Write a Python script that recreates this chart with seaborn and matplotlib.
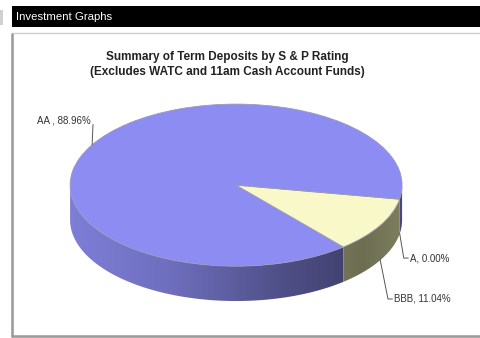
import numpy as np
import matplotlib
matplotlib.use("Agg")
import matplotlib.pyplot as plt
import seaborn as sns
from matplotlib.patches import Polygon, Rectangle
from matplotlib.colors import to_rgb

# data
ratings = ["AA", "BBB", "A"]
shares = [88.96, 11.04, 0.00]
label_texts = ["AA , 88.96%", "BBB, 11.04%", "A, 0.00%"]
title_lines = ["Summary of Term Deposits by S & P Rating",
               "(Excludes WATC and 11am Cash Account Funds)"]

top_colors = ["#8c8cf2", "#f8f8c8", "#8c8cf2"]
side_colors = ["#7e7ed8", "#dadaa4", "#7e7ed8"]
label_pos = [(-0.875, 0.80), (0.95, -1.405), (1.045, -0.90)]

START = -10      # degrees
DEPTH = 0.43     # thickness of the pie, in y data units
W, H = 481, 338

sns.set_theme(style="white")
plt.rcParams["font.family"] = ["Liberation Sans", "DejaVu Sans"]

fig = plt.figure(figsize=(W / 100, H / 100), dpi=100)
fig.patch.set_facecolor("white")


def fig_rect(x, y, w, h, **kw):
    """Rectangle in pixel coordinates measured from the top left corner."""
    r = Rectangle((x / W, 1 - (y + h) / H), w / W, h / H,
                  transform=fig.transFigure, **kw)
    fig.add_artist(r)
    return r


# page furniture: header bar and panel border
fig_rect(0, 10, 3, 15, facecolor="#d0d0d0", edgecolor="none")
fig_rect(12, 6, 470, 21, facecolor="black", edgecolor="none")
fig.text(16 / W, 1 - 16.5 / H, "Investment Graphs", color="white",
         fontsize=8.2, ha="left", va="center")
fig_rect(12, 33, 475, 303, facecolor="none", edgecolor="#cfcfcf", linewidth=1)
fig.add_artist(plt.Line2D([12 / W, 12 / W], [1 - 34 / H, 1 - 336 / H],
                          transform=fig.transFigure, color="#9a9a9a", lw=1.8))
fig.add_artist(plt.Line2D([12 / W, 1], [1 - 336 / H, 1 - 336 / H],
                          transform=fig.transFigure, color="#9a9a9a", lw=1.8))

for i, line in enumerate(title_lines):
    fig.text(227 / W, 1 - (57 + 15 * i) / H, line, fontsize=8.5,
             fontweight="bold", color="#222222", ha="center", va="center")

# pie axes: radius 1 maps to 166 px across and 81 px down
ax = fig.add_axes([12 / W, 1 - 331 / H, 456.5 / W, 235 / H])

bounds = START + np.concatenate([[0], np.cumsum(shares)]) * 3.6

# shading across the front wall, light on the left, dark on the right
grad_x = np.linspace(-1, 1, 300)
shade = np.interp(grad_x, [-1, -0.4, 0.3, 0.75, 1], [1.0, 0.88, 0.62, 0.5, 0.58])

for i, (t1, t2) in enumerate(zip(bounds[:-1], bounds[1:])):
    if t2 - t1 <= 0:
        continue
    ts = np.linspace(t1, t2, 600)
    front = np.sin(np.radians(ts)) <= 0
    # split into contiguous runs of visible angles
    edges = np.flatnonzero(np.diff(np.r_[0, front.astype(int), 0]))
    for a, b in zip(edges[::2], edges[1::2]):
        tt = np.radians(ts[a:b])
        if len(tt) < 2:
            continue
        xs = np.cos(tt)
        ys = np.sin(tt)
        pts = np.r_[np.c_[xs, ys], np.c_[xs[::-1], ys[::-1] - DEPTH]]
        poly = Polygon(pts, closed=True, facecolor="none", edgecolor="none")
        ax.add_patch(poly)
        rgb = np.array(to_rgb(side_colors[i]))[None, None, :] * shade[None, :, None]
        im = ax.imshow(rgb, extent=(-1.01, 1.01, -1 - DEPTH - 0.05, 0.05),
                       aspect="auto", interpolation="bilinear", zorder=1)
        im.set_clip_path(poly)

ax.pie(shares, startangle=START, counterclock=True, colors=top_colors,
       radius=1, wedgeprops=dict(linewidth=0.6, edgecolor="#9a9ab4"))
for w in ax.patches:
    w.set_zorder(2)

# labels with leader lines
for i, (t1, t2) in enumerate(zip(bounds[:-1], bounds[1:])):
    mid = np.radians((t1 + t2) / 2)
    ax_x, ax_y = np.cos(mid), np.sin(mid)
    if ax_y < 0:
        ax_y -= DEPTH * 0.97
    tx, ty = label_pos[i]
    if tx < 0:
        ax.plot([ax_x, ax_x + 0.005], [ax_y, ty - 0.05], color="#555555",
                lw=0.7, zorder=3, clip_on=False)
        ax.text(tx, ty, label_texts[i], ha="right", va="center", fontsize=7,
                color="#333333", clip_on=False)
    else:
        ax.plot([ax_x, tx - 0.035, tx - 0.008], [ax_y, ty, ty],
                color="#555555", lw=0.7, zorder=3, clip_on=False)
        ax.text(tx, ty, label_texts[i], ha="left", va="center", fontsize=7,
                color="#333333", clip_on=False)

ax.set_aspect("auto")
ax.set_xlim(-1.35, 1.4)
ax.set_ylim(-1.8, 1.1)
ax.axis("off")

fig.savefig("out.png", dpi=100)
plt.close(fig)
